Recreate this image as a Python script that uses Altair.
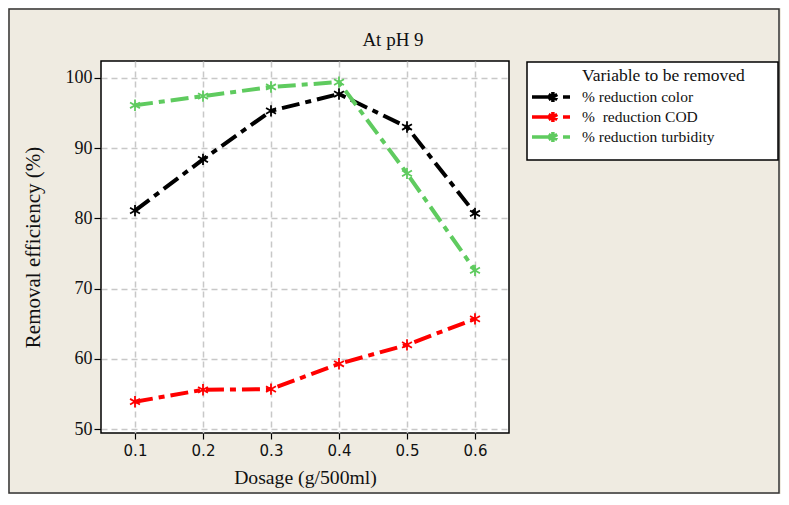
import altair as alt
import pandas as pd

dosage = [0.1, 0.2, 0.3, 0.4, 0.5, 0.6]
series_names = ["% reduction color", "%\u00a0 reduction COD", "% reduction turbidity"]
color_vals = [81.1, 88.4, 95.3, 97.7, 93.0, 80.7]
cod_vals = [53.9, 55.6, 55.7, 59.3, 62.0, 65.7]
turb_vals = [96.1, 97.4, 98.7, 99.4, 86.4, 72.6]
series_colors = ["#000000", "#ff0000", "#5fcb5f"]
y_ticks = [50, 55, 60, 65, 70, 75, 80, 85, 90, 95, 100]
chart_title = "At pH 9"
legend_title = "Variable to be removed"

rows = []
for name, vals in zip(series_names, [color_vals, cod_vals, turb_vals]):
    for d, v in zip(dosage, vals):
        rows.append({"Dosage": d, "Value": v, "Series": name})
df = pd.DataFrame(rows)

SERIF = "Liberation Serif"
star = "M0,-1L0,1M-0.87,-0.5L0.87,0.5M-0.87,0.5L0.87,-0.5"
leg_sym = ("M-1,0L0.1,0M0.63,0L1,0M0.1,-0.26L0.1,0.26"
           "M-0.13,-0.13L0.33,0.13M-0.13,0.13L0.33,-0.13")

x_enc = alt.X("Dosage:Q", scale=alt.Scale(domain=[0.05, 0.65], nice=False, zero=False),
              axis=alt.Axis(values=dosage, format=".1f", title="Dosage (g/500ml)",
                            labelFont="DejaVu Sans", labelFontSize=15, labelColor="#111",
                            labelPadding=4, tickSize=6, tickColor="#000", tickWidth=1.2,
                            domain=False, grid=True, gridColor="#c8c8c8", gridDash=[6, 4],
                            gridWidth=1.5, titleFont=SERIF, titleFontSize=19.7,
                            titleFontWeight="normal", titleColor="#111",
                            titleBaseline="alphabetic", titleY=50))
y_enc = alt.Y("Value:Q", scale=alt.Scale(domain=[49.45, 102.4], nice=False, zero=False),
              axis=alt.Axis(values=y_ticks, title="Removal efficiency (%)",
                            labelExpr="datum.value % 10 === 0 ? datum.label : ''",
                            labelFont=SERIF, labelFontSize=18, labelColor="#111",
                            labelPadding=2, tickSize=7, tickColor="#000", tickWidth=1.2,
                            tickOpacity={"condition": {"test": "datum.value % 10 === 0", "value": 1}, "value": 0},
                            domain=False, grid=True, gridColor="#c8c8c8", gridDash=[6, 4],
                            gridWidth=1.5, titleFont=SERIF, titleFontSize=21,
                            titleFontWeight="normal", titleColor="#111",
                            titleBaseline="alphabetic", titleX=-62, titleY=186, titleAngle=270))
color_enc = alt.Color("Series:N", scale=alt.Scale(domain=series_names, range=series_colors),
                      sort=series_names,
                      legend=alt.Legend(orient="none", legendX=429, legendY=26, title=None,
                                        symbolType=leg_sym, symbolSize=1444, symbolStrokeWidth=3.5,
                                        symbolFillColor="transparent", clipHeight=20, rowPadding=0,
                                        padding=0, labelOffset=10, labelFont=SERIF,
                                        labelFontSize=15.5, labelColor="#111", labelLimit=300))

lines = alt.Chart(df).mark_line(strokeWidth=4, strokeDash=[18, 6, 6, 6]).encode(
    x=x_enc, y=y_enc, color=color_enc)
points = alt.Chart(df).mark_point(shape=star, size=130, strokeWidth=1.8, filled=False, opacity=1).encode(
    x="Dosage:Q", y="Value:Q",
    color=alt.Color("Series:N", scale=alt.Scale(domain=series_names, range=series_colors), legend=None))

one = alt.Data(values=[{"a": 1}])
frame = alt.Chart(one).mark_rect(fill=None, stroke="#333", strokeWidth=1.5).encode(
    x=alt.value(-92), x2=alt.value(678), y=alt.value(-52), y2=alt.value(432))
legbox = alt.Chart(one).mark_rect(fill="white", stroke="#000", strokeWidth=1.5).encode(
    x=alt.value(426), x2=alt.value(677), y=alt.value(1), y2=alt.value(99))
legtitle = alt.Chart(one).mark_text(font=SERIF, fontSize=17.5, align="left",
                                    baseline="alphabetic", color="#111").encode(
    x=alt.value(481), y=alt.value(20), text=alt.value(legend_title))
maintitle = alt.Chart(one).mark_text(font=SERIF, fontSize=19, align="center",
                                     baseline="alphabetic", color="#111").encode(
    x=alt.value(292), y=alt.value(-15), text=alt.value(chart_title))

chart = alt.layer(frame, legbox, legtitle, maintitle, lines, points).properties(
    width=408, height=372,
    background="#EFEBE1",
    padding={"left": 93, "top": 53, "right": 272, "bottom": 61},
    autosize=alt.AutoSizeParams(type="none"),
).configure_view(fill="white", stroke="#000", strokeWidth=1.5)

chart.save("out.html", embed_options={"renderer": "svg", "actions": False})
